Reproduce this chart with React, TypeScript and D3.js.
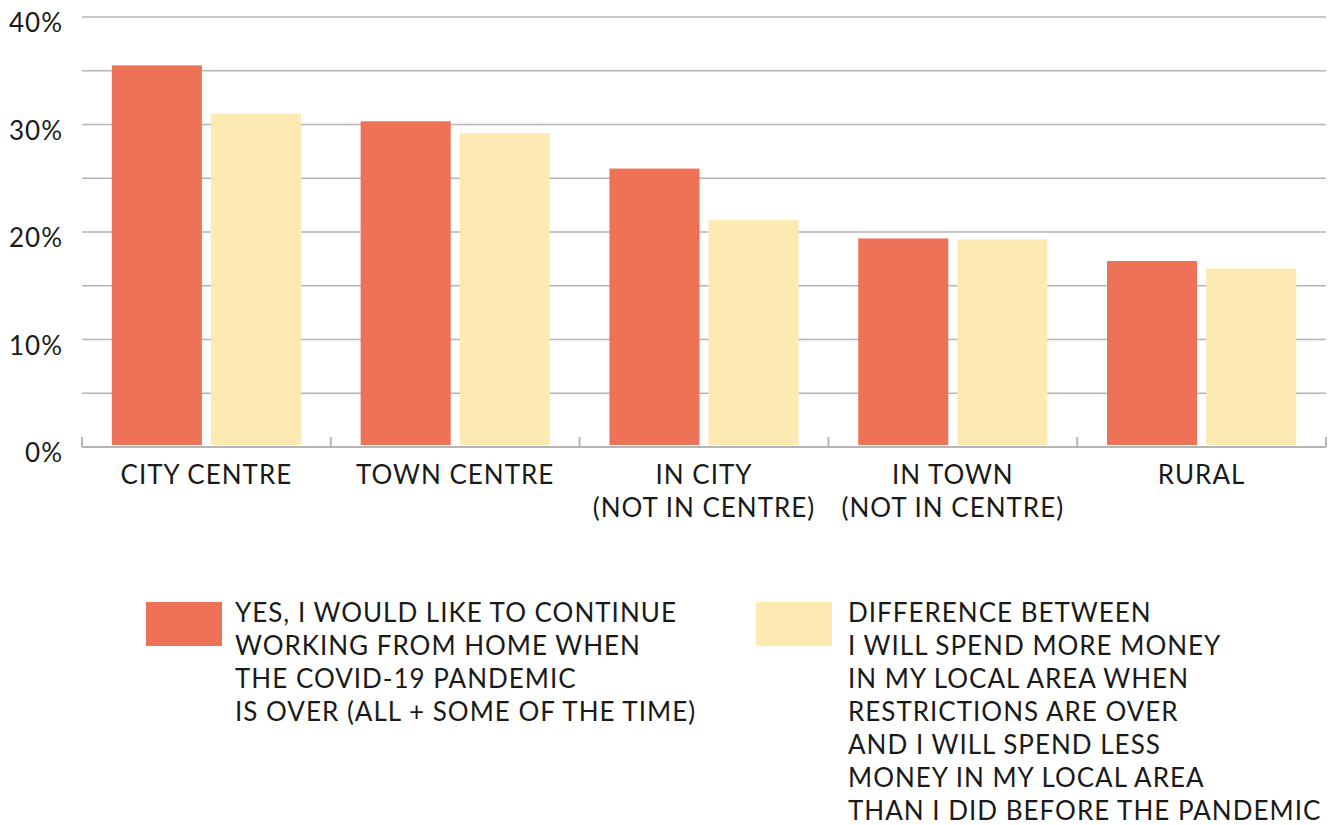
import React from "react";
import * as d3 from "d3";

const categories: string[][] = [
  ["CITY CENTRE"],
  ["TOWN CENTRE"],
  ["IN CITY", "(NOT IN CENTRE)"],
  ["IN TOWN", "(NOT IN CENTRE)"],
  ["RURAL"],
];
const workFromHome = [35.5, 30.3, 25.9, 19.4, 17.3];
const spendDifference = [31.0, 29.2, 21.1, 19.3, 16.6];
const yTicks = [0, 10, 20, 30, 40];
const gridValues = [0, 5, 10, 15, 20, 25, 30, 35, 40];
const seriesNames = ["wfh", "spend"];
const legend1 = [
  "YES, I WOULD LIKE TO CONTINUE",
  "WORKING FROM HOME WHEN",
  "THE COVID-19 PANDEMIC",
  "IS OVER (ALL + SOME OF THE TIME)",
];
const legend2 = [
  "DIFFERENCE BETWEEN",
  "I WILL SPEND MORE MONEY",
  "IN MY LOCAL AREA WHEN",
  "RESTRICTIONS ARE OVER",
  "AND I WILL SPEND LESS",
  "MONEY IN MY LOCAL AREA",
  "THAN I DID BEFORE THE PANDEMIC",
];

const RED = "#EE7258";
const YELLOW = "#FDE9B2";
const GRID = "#b5b5b5";
const TEXT = "#1a1a1a";
const FONT = "Lato, 'Open Sans', sans-serif";

export default function App() {
  const W = 1335, H = 825;
  const left = 82, right = 1326, top = 17, bottom = 447;
  const keys = categories.map((c) => c.join(" "));
  const x = d3.scaleBand<string>().domain(keys).range([left, right]).paddingInner(0).paddingOuter(0);
  const xs = d3.scaleBand<string>().domain(seriesNames).range([0, x.bandwidth()]).paddingInner(0.0909).paddingOuter(0.301);
  const y = d3.scaleLinear().domain([0, 40]).range([bottom, top]);
  const series = [
    { key: "wfh", values: workFromHome, color: RED },
    { key: "spend", values: spendDifference, color: YELLOW },
  ];
  const boundaries = keys.map((k) => x(k)!).concat([right]);

  return (
    <svg width={W} height={H} style={{ position: "absolute", left: 0, top: 0, background: "#fff" }} fontFamily={FONT} letterSpacing={1}>
      {gridValues.map((g) => (
        <line key={g} x1={left} x2={right} y1={y(g)} y2={y(g)} stroke={GRID} strokeWidth={1.5} />
      ))}
      {yTicks.map((t) => (
        <text key={t} x={63} y={y(t) + 15} textAnchor="end" fontSize={26} fill={TEXT}>
          {t}%
        </text>
      ))}
      {series.map((s) =>
        s.values.map((v, i) => (
          <rect
            key={s.key + i}
            x={x(keys[i])! + xs(s.key)!}
            width={xs.bandwidth()}
            y={y(v)}
            height={y(0) - 2 - y(v)}
            fill={s.color}
          />
        ))
      )}
      <line x1={left} x2={right} y1={bottom} y2={bottom} stroke={GRID} strokeWidth={2} />
      {boundaries.map((b, i) => (
        <line key={i} x1={b} x2={b} y1={bottom - 10} y2={bottom} stroke={GRID} strokeWidth={2} />
      ))}
      {categories.map((lines, i) => (
        <text key={i} textAnchor="middle" fontSize={26} fill={TEXT}>
          {lines.map((l, j) => (
            <tspan key={j} x={x(keys[i])! + x.bandwidth() / 2} y={484 + j * 33}>
              {l}
            </tspan>
          ))}
        </text>
      ))}
      <rect x={146} y={602} width={76} height={44} fill={RED} />
      <text fontSize={26} fill={TEXT}>
        {legend1.map((l, j) => (
          <tspan key={j} x={235} y={622 + j * 33}>
            {l}
          </tspan>
        ))}
      </text>
      <rect x={756} y={602} width={76} height={44} fill={YELLOW} />
      <text fontSize={26} fill={TEXT}>
        {legend2.map((l, j) => (
          <tspan key={j} x={848} y={622 + j * 33}>
            {l}
          </tspan>
        ))}
      </text>
    </svg>
  );
}
